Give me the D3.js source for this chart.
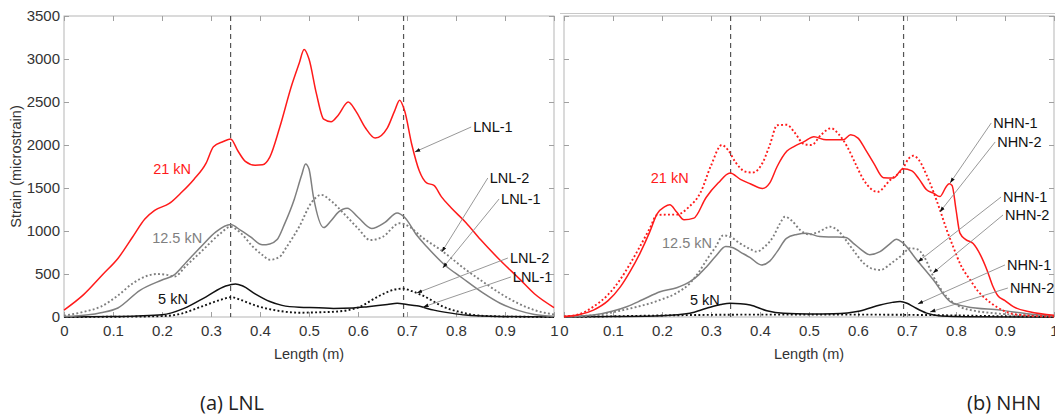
<!DOCTYPE html>
<html>
<head>
<meta charset="utf-8">
<script src="https://cdn.jsdelivr.net/npm/d3@7"></script>
<style>
  body { margin: 0; background: #fff; }
  svg { display: block; }
</style>
</head>
<body>
<script>
// ---- data: [length (m), strain (microstrain)] ----
const lnl21_1 = [[0,80],[0.04,260],[0.08,500],[0.11,680],[0.14,930],[0.165,1140],[0.185,1240],[0.215,1320],[0.24,1450],[0.265,1600],[0.29,1790],[0.305,1980],[0.325,2040],[0.34,2070],[0.355,1930],[0.37,1810],[0.39,1765],[0.405,1770],[0.42,1860],[0.44,2200],[0.465,2700],[0.48,2950],[0.49,3110],[0.50,3000],[0.515,2600],[0.53,2300],[0.545,2270],[0.56,2350],[0.58,2500],[0.595,2400],[0.615,2200],[0.635,2080],[0.66,2200],[0.675,2400],[0.685,2520],[0.695,2400],[0.71,2000],[0.725,1700],[0.74,1560],[0.755,1530],[0.77,1400],[0.79,1270],[0.82,1100],[0.85,900],[0.89,660],[0.93,440],[0.96,270],[1.0,110]];
const lnl125_1 = [[0,5],[0.05,25],[0.075,50],[0.11,105],[0.155,310],[0.2,430],[0.225,490],[0.25,640],[0.28,820],[0.31,990],[0.34,1075],[0.36,1010],[0.38,935],[0.405,840],[0.42,850],[0.435,900],[0.45,1080],[0.47,1370],[0.485,1650],[0.493,1780],[0.50,1720],[0.509,1400],[0.53,1040],[0.545,1120],[0.56,1220],[0.578,1265],[0.60,1160],[0.628,1030],[0.655,1100],[0.68,1210],[0.695,1160],[0.72,950],[0.74,820],[0.78,590],[0.81,465],[0.855,280],[0.89,160],[0.925,80],[0.96,30],[1.0,8]];
const lnl125_2 = [[0,15],[0.04,60],[0.075,120],[0.11,250],[0.14,390],[0.17,480],[0.19,500],[0.21,490],[0.225,470],[0.25,600],[0.28,760],[0.32,975],[0.34,1050],[0.36,980],[0.385,820],[0.405,720],[0.42,665],[0.44,700],[0.455,820],[0.48,1050],[0.505,1330],[0.525,1420],[0.545,1350],[0.57,1210],[0.6,1030],[0.625,895],[0.65,930],[0.685,1090],[0.705,1050],[0.73,930],[0.77,775],[0.82,550],[0.86,390],[0.89,275],[0.93,150],[0.96,80],[1.0,30]];
const lnl5_1 = [[0,0],[0.1,5],[0.15,12],[0.2,25],[0.245,100],[0.29,235],[0.33,360],[0.35,385],[0.365,360],[0.39,270],[0.42,180],[0.445,135],[0.48,113],[0.52,108],[0.55,100],[0.59,105],[0.62,120],[0.66,145],[0.68,160],[0.7,145],[0.72,130],[0.755,80],[0.79,45],[0.82,22],[0.87,8],[1.0,0]];
const lnl5_2 = [[0,0],[0.1,3],[0.2,10],[0.24,40],[0.28,120],[0.32,200],[0.342,230],[0.36,200],[0.39,135],[0.44,70],[0.48,50],[0.52,55],[0.56,65],[0.6,110],[0.645,250],[0.675,320],[0.692,330],[0.71,300],[0.73,255],[0.78,105],[0.81,55],[0.835,25],[0.88,8],[1.0,0]];

const nhn21_1 = [[0,5],[0.03,25],[0.06,80],[0.09,190],[0.115,350],[0.135,530],[0.155,740],[0.175,990],[0.19,1200],[0.205,1280],[0.216,1305],[0.23,1220],[0.245,1130],[0.265,1150],[0.29,1390],[0.315,1560],[0.339,1675],[0.36,1600],[0.38,1550],[0.405,1495],[0.42,1560],[0.435,1750],[0.455,1930],[0.47,1985],[0.49,2040],[0.51,2095],[0.535,2060],[0.57,2060],[0.585,2120],[0.6,2080],[0.615,1950],[0.632,1790],[0.652,1620],[0.672,1615],[0.692,1725],[0.71,1700],[0.725,1600],[0.74,1480],[0.754,1440],[0.767,1400],[0.78,1515],[0.786,1550],[0.792,1530],[0.8,1250],[0.808,975],[0.82,900],[0.835,855],[0.85,720],[0.863,550],[0.875,360],[0.885,250],[0.9,190],[0.917,120],[0.95,60],[1.0,20]];
const nhn21_2 = [[0,5],[0.03,30],[0.06,120],[0.09,260],[0.114,430],[0.135,620],[0.155,820],[0.175,1030],[0.19,1186],[0.21,1190],[0.23,1190],[0.255,1280],[0.278,1440],[0.3,1760],[0.322,2000],[0.335,1940],[0.35,1800],[0.37,1690],[0.385,1680],[0.405,1790],[0.42,2000],[0.435,2230],[0.455,2235],[0.47,2150],[0.49,2010],[0.505,2000],[0.525,2120],[0.545,2195],[0.56,2130],[0.578,1980],[0.595,1780],[0.612,1590],[0.64,1455],[0.665,1590],[0.692,1730],[0.703,1840],[0.713,1875],[0.725,1820],[0.74,1650],[0.767,1250],[0.78,1030],[0.794,820],[0.81,600],[0.829,430],[0.845,300],[0.863,200],[0.885,110],[0.91,45],[0.95,15],[1.0,5]];
const nhn125_1 = [[0,2],[0.06,23],[0.1,70],[0.128,120],[0.16,200],[0.196,294],[0.23,340],[0.257,411],[0.275,490],[0.291,585],[0.31,710],[0.33,820],[0.345,805],[0.36,755],[0.38,690],[0.403,605],[0.42,650],[0.435,760],[0.454,915],[0.475,960],[0.495,975],[0.522,935],[0.55,930],[0.575,925],[0.59,860],[0.605,790],[0.624,725],[0.645,760],[0.665,850],[0.678,905],[0.692,860],[0.72,663],[0.754,430],[0.788,180],[0.822,120],[0.89,80],[0.95,35],[1.0,10]];
const nhn125_2 = [[0,5],[0.06,20],[0.128,90],[0.196,198],[0.23,280],[0.257,392],[0.275,520],[0.291,663],[0.31,820],[0.325,950],[0.34,930],[0.359,857],[0.38,790],[0.393,760],[0.41,820],[0.427,934],[0.44,1080],[0.451,1166],[0.465,1120],[0.482,1012],[0.5,960],[0.52,990],[0.543,1050],[0.56,1000],[0.57,934],[0.59,780],[0.612,624],[0.63,560],[0.645,547],[0.672,643],[0.69,720],[0.706,800],[0.72,790],[0.735,700],[0.754,469],[0.781,236],[0.808,120],[0.84,70],[0.876,45],[0.92,25],[1.0,8]];
const nhn5_1 = [[0,0],[0.1,5],[0.2,15],[0.257,43],[0.291,101],[0.32,145],[0.339,160],[0.36,155],[0.38,140],[0.414,73],[0.448,43],[0.5,35],[0.55,38],[0.604,70],[0.645,140],[0.67,170],[0.686,180],[0.7,160],[0.713,120],[0.74,45],[0.77,12],[0.82,3],[1.0,0]];
const nhn5_2 = [[0,0],[0.1,8],[0.2,18],[0.3,25],[0.4,28],[0.5,28],[0.6,28],[0.7,25],[0.8,18],[0.9,8],[1.0,2]];

const xTicks = [0,0.1,0.2,0.3,0.4,0.5,0.6,0.7,0.8,0.9,1];
const yTicks = [0,500,1000,1500,2000,2500,3000,3500];
const sectionLines = [0.34, 0.693];

// load labels: [text, x, strain]
const lnlLoads = [["21 kN",0.182,1665],["12.5 kN",0.18,860],["5 kN",0.192,150]];
const nhnLoads = [["21 kN",0.177,1555],["12.5 kN",0.2,800],["5 kN",0.257,140]];
// callouts: [text, text x, text strain, arrow x, arrow strain]
const lnlNotes = [["LNL-1",0.835,2151,0.716,1919],["LNL-2",0.869,1558,0.771,756],["LNL-1",0.892,1314,0.773,570],["LNL-2",0.91,628,0.72,279],["LNL-1",0.916,407,0.733,116]];
const nhnNotes = [["NHN-1",0.876,2198,0.788,1558],["NHN-2",0.884,1977,0.767,1221],["NHN-1",0.896,1337,0.722,640],["NHN-2",0.9,1128,0.753,512],["NHN-1",0.904,547,0.722,151],["NHN-2",0.91,279,0.747,58]];

const W = 1055, H = 418;
const RED = '#ff1a1a', GREY = '#7f7f7f', BLACK = '#111';
const FONT = '"Liberation Sans", Arial, sans-serif';

const svg = d3.select('body').append('svg').attr('width', W).attr('height', H);

const defs = svg.append('defs');
defs.append('marker').attr('id', 'arr')
  .attr('viewBox', '0 0 10 10').attr('refX', 10).attr('refY', 5)
  .attr('markerWidth', 6).attr('markerHeight', 6).attr('orient', 'auto')
  .append('path').attr('d', 'M0,1.5 L10,5 L0,8.5 Z').attr('fill', '#111');

const y = d3.scaleLinear().domain([0, 3500]).range([317, 16]);

function panel(x0, series, loads, notes, showY, caption, capX) {
  const x = d3.scaleLinear().domain([0, 1]).range([x0, x0 + 490]);
  const g = svg.append('g');

  // box
  g.append('rect').attr('x', x(0)).attr('y', y(3500))
    .attr('width', x(1) - x(0)).attr('height', y(0) - y(3500))
    .attr('fill', 'none').attr('stroke', '#b5b5b5').attr('stroke-width', 1);

  const fmt = d => d3.format('~g')(d);
  g.append('g').attr('transform', `translate(0,${y(0)})`)
    .call(d3.axisBottom(x).tickValues(xTicks).tickFormat(fmt).tickSizeInner(-5).tickSizeOuter(0).tickPadding(8));
  g.append('g').attr('transform', `translate(0,${y(3500)})`)
    .call(d3.axisTop(x).tickValues(xTicks).tickFormat('').tickSizeInner(-5).tickSizeOuter(0));
  g.append('g').attr('transform', `translate(${x(0)},0)`)
    .call(d3.axisLeft(y).tickValues(yTicks).tickFormat(showY ? d => d : '').tickSizeInner(-5).tickSizeOuter(0).tickPadding(4));
  g.append('g').attr('transform', `translate(${x(1)},0)`)
    .call(d3.axisRight(y).tickValues(yTicks).tickFormat('').tickSizeInner(-5).tickSizeOuter(0));
  g.selectAll('.domain').remove();
  g.selectAll('.tick line').attr('stroke', '#a0a0a0');
  g.selectAll('.tick text').attr('font-family', FONT).attr('font-size', 15).attr('fill', '#333');

  // section lines
  g.selectAll('line.sec').data(sectionLines).enter().append('line')
    .attr('class', 'sec')
    .attr('x1', d => x(d)).attr('x2', d => x(d))
    .attr('y1', y(3500)).attr('y2', y(0))
    .attr('stroke', '#555').attr('stroke-width', 1.2).attr('stroke-dasharray', '5,4');

  const line = d3.line().x(d => x(d[0])).y(d => y(d[1])).curve(d3.curveMonotoneX);
  series.forEach(s => {
    g.append('path').datum(s.data)
      .attr('d', line)
      .attr('fill', 'none')
      .attr('stroke', s.color)
      .attr('stroke-width', s.dotted ? 1.9 : 1.5)
      .attr('stroke-dasharray', s.dotted ? '1.9,2.3' : null);
  });

  // load labels
  const loadCol = [RED, GREY, BLACK];
  g.selectAll('text.load').data(loads).enter().append('text')
    .attr('class', 'load')
    .attr('x', d => x(d[1])).attr('y', d => y(d[2]))
    .attr('font-family', FONT).attr('font-size', 14.5)
    .attr('fill', (d, i) => loadCol[i])
    .text(d => d[0]);

  // callouts
  g.selectAll('line.note').data(notes).enter().append('line')
    .attr('class', 'note')
    .attr('x1', d => x(d[1]) - 2).attr('y1', d => y(d[2]) - 5)
    .attr('x2', d => x(d[3])).attr('y2', d => y(d[4]))
    .attr('stroke', '#8c8c8c').attr('stroke-width', 0.9)
    .attr('marker-end', 'url(#arr)');
  g.selectAll('text.note').data(notes).enter().append('text')
    .attr('class', 'note')
    .attr('x', d => x(d[1])).attr('y', d => y(d[2]))
    .attr('font-family', FONT).attr('font-size', 14.5).attr('fill', '#111')
    .text(d => d[0]);

  // axis titles
  g.append('text').attr('x', x(0.5)).attr('y', 359)
    .attr('text-anchor', 'middle').attr('font-family', FONT).attr('font-size', 14.5).attr('fill', '#333')
    .text('Length (m)');
  if (showY) {
    g.append('text').attr('transform', `translate(21,${(y(0) + y(3500)) / 2}) rotate(-90)`)
      .attr('text-anchor', 'middle').attr('font-family', FONT).attr('font-size', 14.5).attr('fill', '#333')
      .text('Strain (microstrain)');
  }
  g.append('text').attr('x', capX).attr('y', 410)
    .attr('font-family', '"Open Sans", "Noto Sans", sans-serif').attr('font-size', 20).attr('fill', '#222')
    .text(caption);
}

// frame line above right panel
svg.append('line').attr('x1', 560).attr('x2', W).attr('y1', 13.5).attr('y2', 13.5)
  .attr('stroke', '#c8c8c8').attr('stroke-width', 1);

panel(64, [
  { data: lnl5_2, color: BLACK, dotted: true },
  { data: lnl5_1, color: BLACK, dotted: false },
  { data: lnl125_2, color: GREY, dotted: true },
  { data: lnl125_1, color: GREY, dotted: false },
  { data: lnl21_1, color: RED, dotted: false }
], lnlLoads, lnlNotes, true, '(a) LNL', 200);

panel(564, [
  { data: nhn5_2, color: BLACK, dotted: true },
  { data: nhn5_1, color: BLACK, dotted: false },
  { data: nhn125_2, color: GREY, dotted: true },
  { data: nhn125_1, color: GREY, dotted: false },
  { data: nhn21_2, color: RED, dotted: true },
  { data: nhn21_1, color: RED, dotted: false }
], nhnLoads, nhnNotes, false, '(b) NHN', 967);
</script>
</body>
</html>
